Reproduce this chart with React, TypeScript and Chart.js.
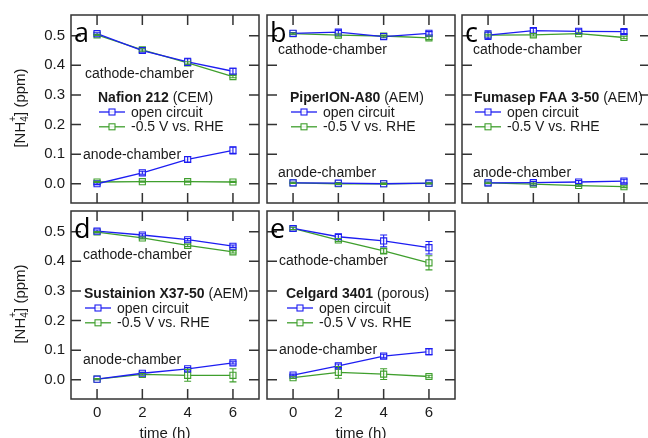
import React, { useEffect, useRef } from "react";
import { Chart, registerables } from "chart.js";

Chart.register(...registerables);

// ---------- data ----------
const TIMES = [0, 2, 4, 6];
const X_TICKS = [0, 2, 4, 6];
const Y_TICKS = [0, 0.1, 0.2, 0.3, 0.4, 0.5];
const SERIES_LABELS = ["open circuit", "-0.5 V vs. RHE"];
const REGION_LABELS = ["cathode-chamber", "anode-chamber"];

// panel a: Nafion 212 (CEM)
const A_OPEN_CATH = [0.507, 0.45, 0.412, 0.38];
const A_OPEN_CATH_ERR = [0.003, 0.006, 0.012, 0.01];
const A_RHE_CATH = [0.503, 0.452, 0.408, 0.362];
const A_RHE_CATH_ERR = [0.002, 0.004, 0.004, 0.004];
const A_OPEN_AN = [0.0, 0.037, 0.082, 0.113];
const A_OPEN_AN_ERR = [0.003, 0.005, 0.009, 0.012];
const A_RHE_AN = [0.006, 0.007, 0.007, 0.006];
const A_RHE_AN_ERR = [0.002, 0.002, 0.002, 0.002];

// panel b: PiperION-A80 (AEM)
const B_OPEN_CATH = [0.508, 0.512, 0.497, 0.508];
const B_OPEN_CATH_ERR = [0.003, 0.006, 0.004, 0.006];
const B_RHE_CATH = [0.507, 0.502, 0.499, 0.493];
const B_RHE_CATH_ERR = [0.002, 0.004, 0.003, 0.006];
const B_OPEN_AN = [0.003, 0.002, 0.0, 0.002];
const B_OPEN_AN_ERR = [0.002, 0.002, 0.002, 0.003];
const B_RHE_AN = [0.003, 0.0, 0.0, 0.001];
const B_RHE_AN_ERR = [0.002, 0.002, 0.002, 0.002];

// panel c: Fumasep FAA 3-50 (AEM)
const C_OPEN_CATH = [0.502, 0.517, 0.515, 0.514];
const C_OPEN_CATH_ERR = [0.015, 0.008, 0.007, 0.007];
const C_RHE_CATH = [0.502, 0.503, 0.507, 0.494];
const C_RHE_CATH_ERR = [0.003, 0.004, 0.003, 0.004];
const C_OPEN_AN = [0.003, 0.004, 0.006, 0.009];
const C_OPEN_AN_ERR = [0.003, 0.004, 0.005, 0.006];
const C_RHE_AN = [0.003, -0.001, -0.006, -0.01];
const C_RHE_AN_ERR = [0.002, 0.003, 0.003, 0.003];

// panel d: Sustainion X37-50 (AEM)
const D_OPEN_CATH = [0.502, 0.489, 0.473, 0.451];
const D_OPEN_CATH_ERR = [0.004, 0.004, 0.004, 0.004];
const D_RHE_CATH = [0.499, 0.479, 0.454, 0.432];
const D_RHE_CATH_ERR = [0.002, 0.003, 0.004, 0.004];
const D_OPEN_AN = [0.002, 0.022, 0.037, 0.057];
const D_OPEN_AN_ERR = [0.002, 0.003, 0.004, 0.004];
const D_RHE_AN = [0.002, 0.018, 0.015, 0.015];
const D_RHE_AN_ERR = [0.002, 0.003, 0.02, 0.022];

// panel e: Celgard 3401 (porous)
const E_OPEN_CATH = [0.511, 0.483, 0.469, 0.446];
const E_OPEN_CATH_ERR = [0.005, 0.008, 0.02, 0.021];
const E_RHE_CATH = [0.511, 0.472, 0.435, 0.395];
const E_RHE_CATH_ERR = [0.004, 0.005, 0.008, 0.024];
const E_OPEN_AN = [0.016, 0.047, 0.08, 0.095];
const E_OPEN_AN_ERR = [0.003, 0.006, 0.006, 0.01];
const E_RHE_AN = [0.007, 0.025, 0.019, 0.011];
const E_RHE_AN_ERR = [0.003, 0.02, 0.018, 0.004];

// ---------- style ----------
const BLUE = "#1d1df2";
const GREEN = "#3f9f2d";
const FRAME = "#333333";
const TEXT = "#1a1a1a";
const FONT = "'Liberation Sans', Arial, sans-serif";
const LETTER_FONT = "'Open Sans', sans-serif";
const X_MIN = -1.15;
const X_MAX = 7.15;
const Y_MIN = -0.065;
const Y_MAX = 0.57;

interface Panel {
  id: string;
  letter: string;
  name: string;
  kind: string;
  box: [number, number, number, number];
  frame: [number, number, number, number];
  showY: boolean;
  showX: boolean;
  series: { color: string; label: string; values: number[]; errors: number[] }[];
  cathPos: [number, number];
  anPos: [number, number];
  legendX: number;
}

function mk(
  oc: number[], oce: number[], oa: number[], oae: number[],
  rc: number[], rce: number[], ra: number[], rae: number[]
) {
  return [
    { color: BLUE, label: SERIES_LABELS[0], values: oc, errors: oce },
    { color: BLUE, label: SERIES_LABELS[0], values: oa, errors: oae },
    { color: GREEN, label: SERIES_LABELS[1], values: rc, errors: rce },
    { color: GREEN, label: SERIES_LABELS[1], values: ra, errors: rae },
  ];
}

const PANELS: Panel[] = [
  {
    id: "a", letter: "a", name: "Nafion 212", kind: "(CEM)",
    box: [0, 0, 265, 222], frame: [71, 15, 259, 203], showY: true, showX: false,
    series: mk(A_OPEN_CATH, A_OPEN_CATH_ERR, A_OPEN_AN, A_OPEN_AN_ERR, A_RHE_CATH, A_RHE_CATH_ERR, A_RHE_AN, A_RHE_AN_ERR),
    cathPos: [14, 63], anPos: [12, 144], legendX: 27,
  },
  {
    id: "b", letter: "b", name: "PiperION-A80", kind: "(AEM)",
    box: [264, 0, 197, 206], frame: [267, 15, 455, 203], showY: false, showX: false,
    series: mk(B_OPEN_CATH, B_OPEN_CATH_ERR, B_OPEN_AN, B_OPEN_AN_ERR, B_RHE_CATH, B_RHE_CATH_ERR, B_RHE_AN, B_RHE_AN_ERR),
    cathPos: [11, 39], anPos: [11, 162], legendX: 23,
  },
  {
    id: "c", letter: "c", name: "Fumasep FAA 3-50", kind: "(AEM)",
    box: [459, 0, 194, 206], frame: [462, 15, 650, 203], showY: false, showX: false,
    series: mk(C_OPEN_CATH, C_OPEN_CATH_ERR, C_OPEN_AN, C_OPEN_AN_ERR, C_RHE_CATH, C_RHE_CATH_ERR, C_RHE_AN, C_RHE_AN_ERR),
    cathPos: [11, 39], anPos: [11, 162], legendX: 12,
  },
  {
    id: "d", letter: "d", name: "Sustainion X37-50", kind: "(AEM)",
    box: [0, 190, 265, 248], frame: [71, 211, 259, 399], showY: true, showX: true,
    series: mk(D_OPEN_CATH, D_OPEN_CATH_ERR, D_OPEN_AN, D_OPEN_AN_ERR, D_RHE_CATH, D_RHE_CATH_ERR, D_RHE_AN, D_RHE_AN_ERR),
    cathPos: [12, 48], anPos: [12, 153], legendX: 13,
  },
  {
    id: "e", letter: "e", name: "Celgard 3401", kind: "(porous)",
    box: [264, 208, 197, 230], frame: [267, 211, 455, 399], showY: false, showX: true,
    series: mk(E_OPEN_CATH, E_OPEN_CATH_ERR, E_OPEN_AN, E_OPEN_AN_ERR, E_RHE_CATH, E_RHE_CATH_ERR, E_RHE_AN, E_RHE_AN_ERR),
    cathPos: [12, 54], anPos: [12, 143], legendX: 19,
  },
];

function drawSquare(ctx: CanvasRenderingContext2D, x: number, y: number, color: string) {
  ctx.save();
  ctx.fillStyle = "rgba(255,255,255,0.85)";
  ctx.strokeStyle = color;
  ctx.lineWidth = 1.1;
  ctx.fillRect(x - 3, y - 3, 6, 6);
  ctx.strokeRect(x - 3, y - 3, 6, 6);
  ctx.restore();
}

function makeDeco(p: Panel) {
  return {
    id: "deco_" + p.id,
    afterDatasetsDraw(chart: any) {
      const ctx: CanvasRenderingContext2D = chart.ctx;
      const xs = chart.scales.x;
      const ys = chart.scales.y;
      ctx.save();
      ctx.beginPath();
      ctx.rect(chart.chartArea.left, chart.chartArea.top, chart.chartArea.right - chart.chartArea.left, chart.chartArea.bottom - chart.chartArea.top);
      ctx.clip();
      chart.data.datasets.forEach((ds: any) => {
        const errs: number[] = ds.errors;
        if (!errs) return;
        ctx.strokeStyle = ds.borderColor;
        ctx.lineWidth = 1.1;
        ds.data.forEach((pt: any, i: number) => {
          const e = errs[i];
          if (!e) return;
          const px = xs.getPixelForValue(pt.x);
          const y1 = ys.getPixelForValue(pt.y - e);
          const y2 = ys.getPixelForValue(pt.y + e);
          ctx.beginPath();
          ctx.moveTo(px, y1);
          ctx.lineTo(px, y2);
          ctx.moveTo(px - 3.5, y1);
          ctx.lineTo(px + 3.5, y1);
          ctx.moveTo(px - 3.5, y2);
          ctx.lineTo(px + 3.5, y2);
          ctx.stroke();
        });
      });
      ctx.restore();
    },
    afterDraw(chart: any) {
      const ctx: CanvasRenderingContext2D = chart.ctx;
      const { left, top, right, bottom } = chart.chartArea;
      const xs = chart.scales.x;
      const ys = chart.scales.y;
      ctx.save();
      // frame and inward ticks
      ctx.strokeStyle = FRAME;
      ctx.lineWidth = 1.5;
      ctx.strokeRect(left, top, right - left, bottom - top);
      ctx.beginPath();
      Y_TICKS.forEach((v) => {
        const py = ys.getPixelForValue(v);
        ctx.moveTo(left, py);
        ctx.lineTo(left + 10, py);
        ctx.moveTo(right - 10, py);
        ctx.lineTo(right, py);
      });
      X_TICKS.forEach((v) => {
        const px = xs.getPixelForValue(v);
        ctx.moveTo(px, top);
        ctx.lineTo(px, top + 10);
        ctx.moveTo(px, bottom - 10);
        ctx.lineTo(px, bottom);
      });
      ctx.stroke();

      // panel letter
      ctx.fillStyle = "#000";
      ctx.font = `27px ${LETTER_FONT}`;
      ctx.textBaseline = "alphabetic";
      ctx.textAlign = "left";
      ctx.fillText(p.letter, left + 3, top + 27);

      // region labels
      ctx.fillStyle = TEXT;
      ctx.font = `14px ${FONT}`;
      ctx.fillText(REGION_LABELS[0], left + p.cathPos[0], top + p.cathPos[1]);
      ctx.fillText(REGION_LABELS[1], left + p.anPos[0], top + p.anPos[1]);

      // legend
      const lx = left + p.legendX;
      ctx.font = `bold 14px ${FONT}`;
      ctx.fillText(p.name, lx, top + 86.7);
      const w = ctx.measureText(p.name).width;
      ctx.font = `14px ${FONT}`;
      ctx.fillText(" " + p.kind, lx + w, top + 86.7);
      const rows = [
        { color: BLUE, label: SERIES_LABELS[0], y: top + 101.5 },
        { color: GREEN, label: SERIES_LABELS[1], y: top + 116.3 },
      ];
      rows.forEach((r) => {
        const ly = r.y - 4.5;
        ctx.strokeStyle = r.color;
        ctx.lineWidth = 1.3;
        ctx.beginPath();
        ctx.moveTo(lx + 1, ly);
        ctx.lineTo(lx + 27, ly);
        ctx.stroke();
        drawSquare(ctx, lx + 14, ly, r.color);
        ctx.fillStyle = TEXT;
        ctx.fillText(r.label, lx + 33, r.y);
      });

      // y title
      if (p.showY) {
        const cy = (top + bottom) / 2 - 1;
        ctx.save();
        ctx.translate(25, cy);
        ctx.rotate(-Math.PI / 2);
        ctx.fillStyle = TEXT;
        ctx.font = `15px ${FONT}`;
        const s1 = "[NH";
        const s3 = "] (ppm)";
        const w1 = ctx.measureText(s1).width;
        const w3 = ctx.measureText(s3).width;
        ctx.font = `10px ${FONT}`;
        const w2 = Math.max(ctx.measureText("4").width, ctx.measureText("+").width);
        const total = w1 + w2 + w3;
        let x0 = -total / 2;
        ctx.font = `15px ${FONT}`;
        ctx.fillText(s1, x0, 0);
        x0 += w1;
        ctx.font = `10px ${FONT}`;
        ctx.fillText("4", x0, 3);
        ctx.fillText("+", x0, -9);
        x0 += w2;
        ctx.font = `15px ${FONT}`;
        ctx.fillText(s3, x0, 0);
        ctx.restore();
      }
      // x title
      if (p.showX) {
        ctx.fillStyle = TEXT;
        ctx.font = `15px ${FONT}`;
        ctx.textAlign = "center";
        ctx.fillText("time (h)", (left + right) / 2, bottom + 39);
      }
      ctx.restore();
    },
  };
}

function PanelChart({ p }: { p: Panel }) {
  const ref = useRef<HTMLCanvasElement>(null);
  const [cl, ct, cw, ch] = p.box;
  useEffect(() => {
    const [fl, ft, fr, fb] = p.frame;
    const datasets = p.series.map((s) => ({
      label: s.label,
      data: TIMES.map((t, i) => ({ x: t, y: s.values[i] })),
      errors: s.errors,
      borderColor: s.color,
      backgroundColor: s.color,
      borderWidth: 1.3,
      pointStyle: "rect",
      pointRadius: 4.3,
      pointBorderWidth: 1.1,
      pointBackgroundColor: "rgba(255,255,255,0.85)",
      pointBorderColor: s.color,
      tension: 0,
      fill: false,
    }));
    const chart = new Chart(ref.current as HTMLCanvasElement, {
      type: "line",
      data: { datasets: datasets as any },
      options: {
        animation: false,
        responsive: false,
        devicePixelRatio: 1,
        events: [],
        layout: {
          autoPadding: false,
          padding: {
            left: p.showY ? 0 : fl - cl,
            top: ft - ct,
            right: cl + cw - fr,
            bottom: p.showX ? 0 : ct + ch - fb,
          },
        },
        plugins: { legend: { display: false }, tooltip: { enabled: false } },
        scales: {
          x: {
            type: "linear",
            min: X_MIN,
            max: X_MAX,
            display: p.showX,
            grid: { display: false, drawTicks: false },
            border: { display: false },
            ticks: {
              stepSize: 2,
              includeBounds: false,
              padding: 5,
              color: TEXT,
              maxRotation: 0,
              autoSkip: false,
              font: { size: 15, family: FONT },
            },
            afterFit: (s: any) => {
              s.height = p.showX ? ct + ch - fb : 0;
            },
          },
          y: {
            type: "linear",
            min: Y_MIN,
            max: Y_MAX,
            display: p.showY,
            grid: { display: false, drawTicks: false },
            border: { display: false },
            ticks: {
              stepSize: 0.1,
              includeBounds: false,
              padding: 6,
              color: TEXT,
              font: { size: 15, family: FONT },
              callback: (v: any) => Number(v).toFixed(1),
            },
            afterFit: (s: any) => {
              s.width = p.showY ? fl - cl : 0;
            },
          },
        },
      } as any,
      plugins: [makeDeco(p)],
    });
    return () => chart.destroy();
  }, [p]);
  return (
    <canvas
      ref={ref}
      width={cw}
      height={ch}
      style={{ position: "absolute", left: cl, top: ct, width: cw, height: ch }}
    />
  );
}

export default function App() {
  return (
    <div
      style={{
        position: "absolute",
        left: 0,
        top: 0,
        width: 648,
        height: 438,
        overflow: "hidden",
        background: "#ffffff",
      }}
    >
      {PANELS.map((p) => (
        <PanelChart key={p.id} p={p} />
      ))}
    </div>
  );
}
